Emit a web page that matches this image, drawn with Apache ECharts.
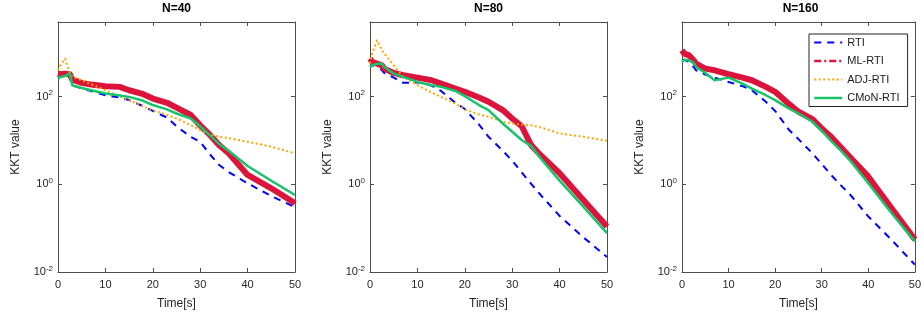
<!DOCTYPE html>
<html><head><meta charset="utf-8">
<script src="https://cdn.jsdelivr.net/npm/echarts@6/dist/echarts.min.js"></script>
<style>html,body{margin:0;padding:0;background:#fff}#c{width:924px;height:320px}</style>
</head><body><div id="c"></div>
<script>
// ---------- data ----------
const titles = ['N=40', 'N=80', 'N=160'];
const seriesNames = ['RTI', 'ML-RTI', 'ADJ-RTI', 'CMoN-RTI'];
const xTicks = [0, 10, 20, 30, 40, 50];
const yTicks = [0.01, 1, 100];
const time = [0, 0.5, 1.5, 2.5, 3, 5, 7, 10, 13, 15, 18, 20, 23, 25, 28, 30, 32, 34, 36, 40, 45, 50];

const rti40  = [280, 290, 305, 333, 181, 152, 134, 107, 95, 83, 60, 47, 33, 21, 12, 9.3, 4.9, 2.75, 1.9, 1.05, 0.54, 0.30];
const ml40   = [333, 322, 333, 322, 243, 205, 187, 172, 166, 139, 113, 90, 72, 56, 38, 22, 13.5, 7.8, 5.1, 1.63, 0.81, 0.37];
const adj40  = [397, 515, 731, 333, 280, 235, 191, 139, 102, 83, 60, 49, 38, 31.6, 22.3, 17.2, 13.7, 12.1, 11.3, 9.3, 7.2, 5.07];
const cmon40 = [256, 280, 295, 333, 181, 157, 139, 117, 105, 98, 80, 64, 51, 41, 31.6, 21, 13.2, 8.3, 5.8, 2.6, 1.2, 0.57];

const rti80  = [472, 500, 543, 397, 345, 270, 205, 210, 178, 134, 72, 52, 23, 12.1, 5.8, 3.45, 1.87, 1.02, 0.57, 0.19, 0.062, 0.022];
const ml80   = [731, 614, 562, 515, 433, 345, 305, 270, 235, 197, 152, 128, 95, 76, 49, 31.6, 21, 7.8, 4.6, 1.78, 0.44, 0.109];
const adj80  = [562, 1000, 1905, 1130, 949, 515, 280, 181, 123, 98, 69, 51, 39, 34.5, 26.6, 24.3, 23, 22, 19.8, 14.4, 12.1, 9.8];
const cmon80 = [472, 515, 562, 562, 472, 333, 280, 215, 181, 166, 134, 102, 64, 49, 24.3, 15.7, 10.2, 7.4, 3.9, 1.21, 0.31, 0.077];

const rti160  = [670, 690, 614, 472, 397, 316, 270, 215, 172, 139, 76, 47, 17.2, 10.7, 5.07, 2.9, 1.63, 0.97, 0.60, 0.184, 0.054, 0.0147];
const ml160   = [1130, 949, 869, 670, 562, 433, 397, 322, 270, 235, 166, 128, 67, 45, 30.5, 18.7, 12.1, 7.18, 4.25, 1.49, 0.285, 0.055];
const adj160  = []; // not visible in the N=160 panel
const cmon160 = [614, 690, 670, 585, 472, 345, 235, 270, 197, 152, 107, 83, 53, 41, 26.6, 16.6, 9.8, 6.0, 3.57, 1.05, 0.219, 0.0498];

// ---------- chart ----------
const FONT = '"Liberation Sans", Arial, Helvetica, sans-serif';
const AX = '#4d4d4d';
const TXT = '#262626';
const panels = [
  [rti40, ml40, adj40, cmon40],
  [rti80, ml80, adj80, cmon80],
  [rti160, ml160, adj160, cmon160]
];
const lefts = [58, 370, 682];
const styles = [
  {color: '#0000ff', width: 2, type: [7, 6]},
  {color: '#dc143c', width: 6, type: 'solid'},
  {color: '#ffa500', width: 2, type: [2, 2.5]},
  {color: '#17c46a', width: 2.5, type: 'solid'}
];

const grid = lefts.map(l => ({left: l, top: 22, width: 237, height: 250}));
const xAxis = [], yAxis = [], series = [];
const tickCommon = {show: true, inside: true, length: 4, lineStyle: {color: AX, width: 1}};
const lineCommon = {show: true, onZero: false, lineStyle: {color: AX, width: 1}};

panels.forEach((p, i) => {
  xAxis.push({
    type: 'value', gridIndex: i, min: xTicks[0], max: xTicks[xTicks.length - 1], interval: 10, position: 'bottom',
    name: 'Time[s]', nameLocation: 'middle', nameGap: 26,
    nameTextStyle: {fontSize: 12, color: TXT, fontFamily: FONT},
    axisLine: lineCommon, axisTick: tickCommon,
    axisLabel: {fontSize: 11, color: TXT, fontFamily: FONT, margin: 7},
    splitLine: {show: false}
  });
  xAxis.push({
    type: 'value', gridIndex: i, min: xTicks[0], max: xTicks[xTicks.length - 1], interval: 10, position: 'top',
    axisLine: lineCommon, axisTick: tickCommon, axisLabel: {show: false}, splitLine: {show: false}
  });
  yAxis.push({
    type: 'log', logBase: 10, gridIndex: i, min: 0.01, max: 5000, position: 'left',
    name: 'KKT value', nameLocation: 'middle', nameGap: 36,
    nameTextStyle: {fontSize: 12, color: TXT, fontFamily: FONT},
    axisLine: lineCommon,
    axisTick: Object.assign({customValues: yTicks}, tickCommon),
    axisLabel: {
      customValues: yTicks, margin: 5, fontFamily: FONT, color: TXT,
      formatter: v => '{b|10}{s|' + Math.round(Math.log10(v)) + '}',
      rich: {
        b: {fontSize: 11, color: TXT, fontFamily: FONT},
        s: {fontSize: 8, color: TXT, fontFamily: FONT, padding: [0, 0, 7, 0]}
      }
    },
    splitLine: {show: false}, minorTick: {show: false}
  });
  yAxis.push({
    type: 'log', logBase: 10, gridIndex: i, min: 0.01, max: 5000, position: 'right',
    axisLine: lineCommon,
    axisTick: Object.assign({customValues: yTicks}, tickCommon),
    axisLabel: {show: false}, splitLine: {show: false}, minorTick: {show: false}
  });
  p.forEach((arr, k) => {
    series.push({
      name: seriesNames[k], type: 'line', xAxisIndex: 2 * i, yAxisIndex: 2 * i,
      data: arr.map((v, j) => [time[j], v]),
      symbol: 'none', showSymbol: false, silent: true, clip: true,
      itemStyle: {color: styles[k].color},
      lineStyle: Object.assign({cap: 'butt', join: 'round'}, styles[k])
    });
  });
});

const option = {
  animation: false,
  backgroundColor: '#fff',
  title: titles.map((t, i) => ({
    text: t, left: lefts[i] + 118.5, top: 3, textAlign: 'center', padding: 0,
    textStyle: {fontSize: 12, fontWeight: 'bold', color: '#000', fontFamily: FONT}
  })),
  legend: {
    orient: 'vertical', left: 809, top: 34, padding: [3, 8, 3, 4],
    itemWidth: 28, itemHeight: 10, itemGap: 7.5,
    borderColor: '#222', borderWidth: 1, backgroundColor: '#fff',
    itemStyle: {opacity: 0},
    textStyle: {fontSize: 11, color: '#1a1a1a', fontFamily: FONT},
    data: [
      {name: 'RTI', lineStyle: {width: 2, type: [7, 6]}},
      {name: 'ML-RTI', lineStyle: {width: 2.5, type: [7, 3, 2, 3]}},
      {name: 'ADJ-RTI', lineStyle: {width: 2, type: [2, 2.5]}},
      {name: 'CMoN-RTI', lineStyle: {width: 2.5}}
    ]
  },
  grid, xAxis, yAxis, series
};
echarts.init(document.getElementById('c'), null, {renderer: 'canvas'}).setOption(option);
</script>
</body></html>
